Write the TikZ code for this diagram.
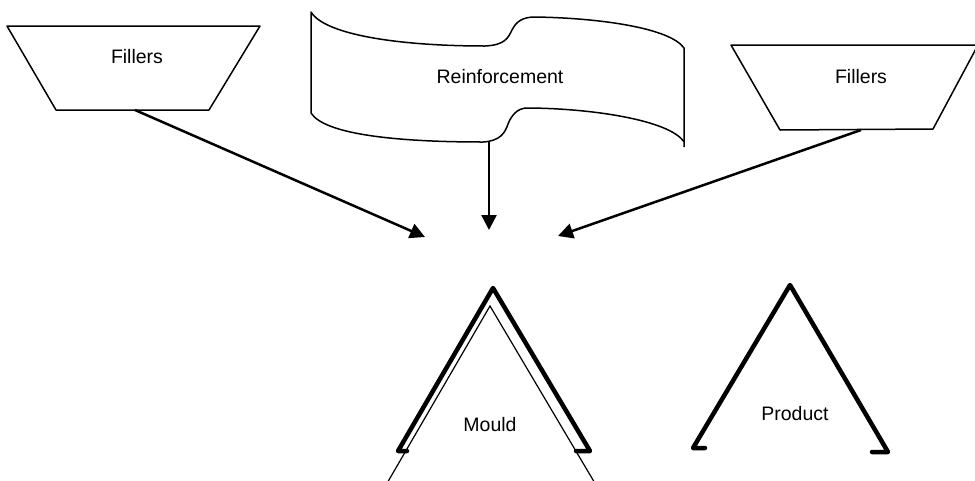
\documentclass[tikz,border=0pt]{standalone}
\usepackage{fontspec}
\setmainfont{Liberation Sans}
\usepackage{tikz}
\usetikzlibrary{arrows.meta, positioning, calc}
\tikzstyle{arrow} = [line width=2.5pt,-{Triangle[length=15pt,width=15pt]}]
\tikzstyle{outline} = [line width=1.5pt, line join=round]
\tikzstyle{heavy} = [line width=4.5pt, line join=round, line cap=round]

\begin{document}
\begin{tikzpicture}[
    x=1pt, y=-1pt,
    every node/.style={font=\fontsize{19.5}{23}\selectfont, inner sep=0pt}
]
\useasboundingbox (0,0) rectangle (975,480);

% texts
\node (fillA) at (137,57) {Fillers};
\node (reinf) at (500,77) {Reinforcement};
\node (fillB) at (861,77) {Fillers};
\node (mould) at (490,425) {Mould};
\node (product) at (795,414) {Product};

% hoppers
\draw[outline] (7,26) -- (260,26) -- (209,110) -- (56,110) -- cycle;
\draw[outline] (731,45) -- (978,45) -- (933,129) -- (780,130) -- cycle;

% tape
\draw[outline] (311,113) -- (311,12)
    .. controls (325,35) and (400,46) .. (485,46)
    .. controls (505,45) and (508,38) .. (512,30)
    .. controls (516,22) and (522,17) .. (535,17)
    .. controls (600,18) and (670,28) .. (684,48) -- (684,147);
\draw[outline] (311,113)
    .. controls (325,135) and (400,142) .. (483,142)
    .. controls (500,141) and (505,133) .. (508,124)
    .. controls (512,114) and (518,109) .. (525,108)
    .. controls (590,108) and (670,120) .. (684,142);

% mould and product
\draw[heavy] (407,451) -- (398,451) -- (493,288) -- (590,451) -- (576,451);
\draw[line width=1.2pt] (386,485) -- (490,306) -- (596,485);
\draw[heavy] (705,448) -- (693,448) -- (790,285) -- (888,452) -- (872,452);

% feeds
\coordinate (fillA-out) at (135,110);
\coordinate (reinf-out) at (489,142);
\coordinate (fillB-out) at (861,130);
\coordinate (inL) at (425,237);
\coordinate (inM) at (489,230);
\coordinate (inR) at (558,236);
\draw[arrow] (fillA-out) -- (inL);
\draw[arrow] (reinf-out) -- (inM);
\draw[arrow] (fillB-out) -- (inR);

\end{tikzpicture}
\end{document}
